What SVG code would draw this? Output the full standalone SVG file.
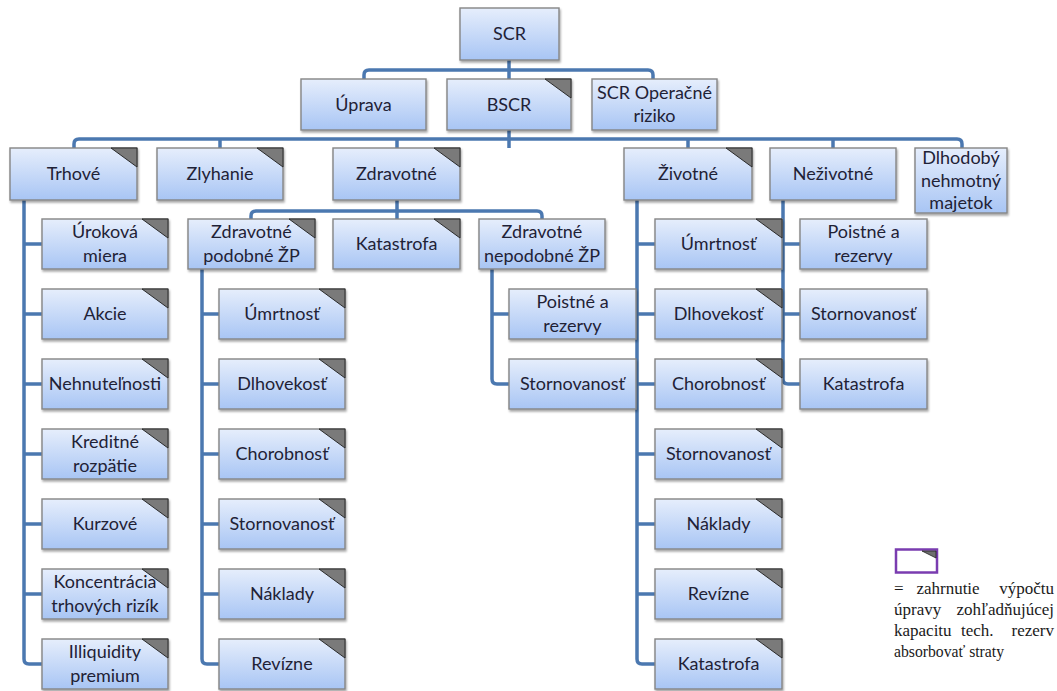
<svg xmlns="http://www.w3.org/2000/svg" width="1057" height="691" viewBox="0 0 1057 691">
  <defs>
    <linearGradient id="boxFill" x1="0" y1="0" x2="0" y2="1">
      <stop offset="0" stop-color="#e6eefc"/>
      <stop offset="1" stop-color="#a8c5f4"/>
    </linearGradient>
    <filter id="shadow" x="-10%" y="-10%" width="125%" height="135%">
      <feDropShadow dx="1" dy="2" stdDeviation="1.3" flood-color="#000" flood-opacity="0.35"/>
    </filter>
  </defs>
  <style>
    .box { fill: url(#boxFill); stroke: #858585; stroke-width: 1.4; filter: url(#shadow); }
    .tri { fill: #7a7a7a; stroke: #2a2a2a; stroke-width: 1; stroke-linejoin: miter; }
    .lbl { font-family: Lato, "Open Sans", sans-serif; font-size: 18px; fill: #1f2236; text-anchor: middle; }
    .wire { fill: none; stroke: #4b78b0; stroke-width: 3.5; stroke-linecap: butt; stroke-linejoin: round; }
    .legend { font-family: "Liberation Serif", serif; font-size: 17px; fill: #1a1a1a; }
    .end { text-anchor: end; }
    .mid { text-anchor: middle; }
  </style>

  <!-- connectors -->
  <g id="connectors" class="wire">
    <!-- SCR to its three children -->
    <path d="M509,60 V79"/>
    <path d="M364,79 V75 Q364,70 369,70 H648 Q653,70 653,75 V79"/>
    <!-- BSCR to the module row -->
    <path d="M509,130 V148"/>
    <path d="M74,148 V144 Q74,139 79,139 H957 Q962,139 962,144 V148"/>
    <path d="M220,139 V148"/>
    <path d="M397,139 V148"/>
    <path d="M688,139 V148"/>
    <path d="M833,139 V148"/>
    <!-- Zdravotné to its sub-modules -->
    <path d="M397,200 V219"/>
    <path d="M251,219 V216 Q251,211 256,211 H537 Q542,211 542,216 V219"/>
    <!-- Trhové -->
    <path d="M24,200 V659 Q24,664 29,664 H42"/>
    <path d="M24,244 H42 M24,314 H42 M24,384 H42 M24,454 H42 M24,524 H42 M24,594 H42"/>
    <!-- Zdravotné podobné ŽP -->
    <path d="M202,269 V659 Q202,664 207,664 H219"/>
    <path d="M202,314 H219 M202,384 H219 M202,454 H219 M202,524 H219 M202,594 H219"/>
    <!-- Zdravotné nepodobné ŽP -->
    <path d="M492,269 V379 Q492,384 497,384 H509"/>
    <path d="M492,314 H509"/>
    <!-- Životné -->
    <path d="M637,200 V659 Q637,664 642,664 H655"/>
    <path d="M637,244 H655 M637,314 H655 M637,384 H655 M637,454 H655 M637,524 H655 M637,594 H655"/>
    <!-- Neživotné -->
    <path d="M783,200 V379 Q783,384 788,384 H800"/>
    <path d="M783,244 H800 M783,314 H800"/>
  </g>

  <!-- top levels -->
  <g id="scr"><rect class="box" x="460" y="8" width="99" height="52"/><text class="lbl" x="509.5" y="40">SCR</text></g>
  <g id="uprava"><rect class="box" x="301" y="79" width="125" height="51"/><text class="lbl" x="363.5" y="111">Úprava</text></g>
  <g id="bscr"><rect class="box" x="447" y="79" width="124" height="51"/><polygon class="tri" points="545,79 571,79 571,98"/><text class="lbl" x="509" y="111">BSCR</text></g>
  <g id="scr-op"><rect class="box" x="592" y="79" width="125" height="51"/><text class="lbl" x="654.5" y="99">SCR Operačné</text><text class="lbl" x="654.5" y="122">riziko</text></g>

  <!-- module row -->
  <g id="trhove"><rect class="box" x="10" y="148" width="127" height="52"/><polygon class="tri" points="111,148 137,148 137,167"/><text class="lbl" x="73.5" y="180">Trhové</text></g>
  <g id="zlyhanie"><rect class="box" x="157" y="148" width="126" height="52"/><polygon class="tri" points="257,148 283,148 283,167"/><text class="lbl" x="220" y="180">Zlyhanie</text></g>
  <g id="zdravotne"><rect class="box" x="333" y="148" width="127" height="52"/><polygon class="tri" points="434,148 460,148 460,167"/><text class="lbl" x="396.5" y="180">Zdravotné</text></g>
  <g id="zivotne"><rect class="box" x="624" y="148" width="128" height="52"/><polygon class="tri" points="726,148 752,148 752,167"/><text class="lbl" x="688" y="180">Životné</text></g>
  <g id="nezivotne"><rect class="box" x="770" y="148" width="126" height="52"/><text class="lbl" x="833" y="180">Neživotné</text></g>
  <g id="dlhodoby"><rect class="box" x="915" y="148" width="92" height="65"/><text class="lbl" x="961" y="164">Dlhodobý</text><text class="lbl" x="961" y="187">nehmotný</text><text class="lbl" x="961" y="209">majetok</text></g>

  <!-- Zdravotné sub-modules -->
  <g id="zdrav-podobne"><rect class="box" x="188" y="219" width="127" height="50"/><polygon class="tri" points="289,219 315,219 315,238"/><text class="lbl" x="251.5" y="238">Zdravotné</text><text class="lbl" x="251.5" y="262">podobné ŽP</text></g>
  <g id="zdrav-katastrofa"><rect class="box" x="333" y="219" width="127" height="50"/><polygon class="tri" points="434,219 460,219 460,238"/><text class="lbl" x="396.5" y="250">Katastrofa</text></g>
  <g id="zdrav-nepodobne"><rect class="box" x="479" y="219" width="126" height="50"/><text class="lbl" x="542" y="238">Zdravotné</text><text class="lbl" x="542" y="262">nepodobné ŽP</text></g>

  <!-- Trhové risks -->
  <g id="t-urokova"><rect class="box" x="42" y="219" width="126" height="50"/><polygon class="tri" points="142,219 168,219 168,238"/><text class="lbl" x="105" y="238">Úroková</text><text class="lbl" x="105" y="262">miera</text></g>
  <g id="t-akcie"><rect class="box" x="42" y="289" width="126" height="50"/><polygon class="tri" points="142,289 168,289 168,308"/><text class="lbl" x="105" y="320">Akcie</text></g>
  <g id="t-nehnutelnosti"><rect class="box" x="42" y="359" width="126" height="50"/><polygon class="tri" points="142,359 168,359 168,378"/><text class="lbl" x="105" y="390">Nehnuteľnosti</text></g>
  <g id="t-kreditne"><rect class="box" x="42" y="429" width="126" height="50"/><polygon class="tri" points="142,429 168,429 168,448"/><text class="lbl" x="105" y="448">Kreditné</text><text class="lbl" x="105" y="472">rozpätie</text></g>
  <g id="t-kurzove"><rect class="box" x="42" y="499" width="126" height="50"/><polygon class="tri" points="142,499 168,499 168,518"/><text class="lbl" x="105" y="530">Kurzové</text></g>
  <g id="t-koncentracia"><rect class="box" x="42" y="569" width="126" height="50"/><polygon class="tri" points="142,569 168,569 168,588"/><text class="lbl" x="105" y="588">Koncentrácia</text><text class="lbl" x="105" y="612">trhových rizík</text></g>
  <g id="t-illiquidity"><rect class="box" x="42" y="639" width="126" height="50"/><polygon class="tri" points="142,639 168,639 168,658"/><text class="lbl" x="105" y="658">Illiquidity</text><text class="lbl" x="105" y="682">premium</text></g>

  <!-- Zdravotné podobné ŽP risks -->
  <g id="zp-umrtnost"><rect class="box" x="219" y="289" width="126" height="50"/><polygon class="tri" points="319,289 345,289 345,308"/><text class="lbl" x="282" y="320">Úmrtnosť</text></g>
  <g id="zp-dlhovekost"><rect class="box" x="219" y="359" width="126" height="50"/><polygon class="tri" points="319,359 345,359 345,378"/><text class="lbl" x="282" y="390">Dlhovekosť</text></g>
  <g id="zp-chorobnost"><rect class="box" x="219" y="429" width="126" height="50"/><polygon class="tri" points="319,429 345,429 345,448"/><text class="lbl" x="282" y="460">Chorobnosť</text></g>
  <g id="zp-stornovanost"><rect class="box" x="219" y="499" width="126" height="50"/><polygon class="tri" points="319,499 345,499 345,518"/><text class="lbl" x="282" y="530">Stornovanosť</text></g>
  <g id="zp-naklady"><rect class="box" x="219" y="569" width="126" height="50"/><polygon class="tri" points="319,569 345,569 345,588"/><text class="lbl" x="282" y="600">Náklady</text></g>
  <g id="zp-revizne"><rect class="box" x="219" y="639" width="126" height="50"/><polygon class="tri" points="319,639 345,639 345,658"/><text class="lbl" x="282" y="670">Revízne</text></g>

  <!-- Zdravotné nepodobné ŽP risks -->
  <g id="zn-poistne"><rect class="box" x="509" y="289" width="127" height="50"/><text class="lbl" x="572.5" y="308">Poistné a</text><text class="lbl" x="572.5" y="332">rezervy</text></g>
  <g id="zn-stornovanost"><rect class="box" x="509" y="359" width="127" height="50"/><text class="lbl" x="572.5" y="390">Stornovanosť</text></g>

  <!-- Životné risks -->
  <g id="z-umrtnost"><rect class="box" x="655" y="219" width="127" height="50"/><polygon class="tri" points="756,219 782,219 782,238"/><text class="lbl" x="718.5" y="250">Úmrtnosť</text></g>
  <g id="z-dlhovekost"><rect class="box" x="655" y="289" width="127" height="50"/><polygon class="tri" points="756,289 782,289 782,308"/><text class="lbl" x="718.5" y="320">Dlhovekosť</text></g>
  <g id="z-chorobnost"><rect class="box" x="655" y="359" width="127" height="50"/><polygon class="tri" points="756,359 782,359 782,378"/><text class="lbl" x="718.5" y="390">Chorobnosť</text></g>
  <g id="z-stornovanost"><rect class="box" x="655" y="429" width="127" height="50"/><polygon class="tri" points="756,429 782,429 782,448"/><text class="lbl" x="718.5" y="460">Stornovanosť</text></g>
  <g id="z-naklady"><rect class="box" x="655" y="499" width="127" height="50"/><polygon class="tri" points="756,499 782,499 782,518"/><text class="lbl" x="718.5" y="530">Náklady</text></g>
  <g id="z-revizne"><rect class="box" x="655" y="569" width="127" height="50"/><polygon class="tri" points="756,569 782,569 782,588"/><text class="lbl" x="718.5" y="600">Revízne</text></g>
  <g id="z-katastrofa"><rect class="box" x="655" y="639" width="127" height="50"/><polygon class="tri" points="756,639 782,639 782,658"/><text class="lbl" x="718.5" y="670">Katastrofa</text></g>

  <!-- Neživotné risks -->
  <g id="n-poistne"><rect class="box" x="800" y="219" width="127" height="50"/><text class="lbl" x="863.5" y="238">Poistné a</text><text class="lbl" x="863.5" y="262">rezervy</text></g>
  <g id="n-stornovanost"><rect class="box" x="800" y="289" width="127" height="50"/><text class="lbl" x="863.5" y="320">Stornovanosť</text></g>
  <g id="n-katastrofa"><rect class="box" x="800" y="359" width="127" height="50"/><text class="lbl" x="863.5" y="390">Katastrofa</text></g>

  <!-- legend: justified lines, words placed one by one -->
  <g id="legend">
    <rect x="896" y="549.5" width="41" height="23" fill="#ffffff" stroke="#7a3cb0" stroke-width="2.5"/>
    <polygon points="922,551 936,551 936,558" fill="#6e6e6e" stroke="#222" stroke-width="0.8"/>
    <text class="legend" x="894" y="594">=</text>
    <text class="legend mid" x="948" y="594">zahrnutie</text>
    <text class="legend end" x="1054" y="594">výpočtu</text>
    <text class="legend" x="894" y="615">úpravy</text>
    <text class="legend end" x="1054" y="615">zohľadňujúcej</text>
    <text class="legend" x="894" y="636">kapacitu</text>
    <text class="legend" x="961" y="636">tech.</text>
    <text class="legend end" x="1054" y="636">rezerv</text>
    <text class="legend" x="894" y="657" textLength="110" lengthAdjust="spacingAndGlyphs">absorbovať straty</text>
  </g>
</svg>
